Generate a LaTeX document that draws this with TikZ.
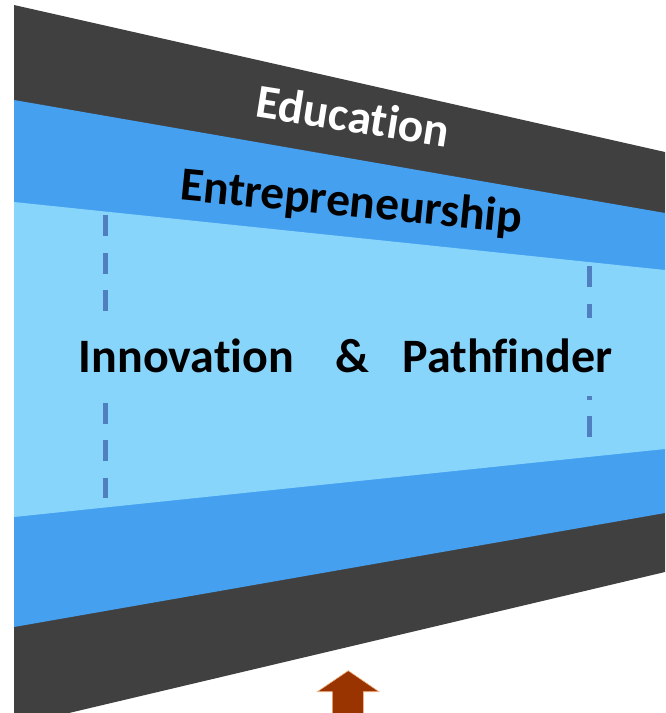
\documentclass[tikz,border=0pt]{standalone}
\usepackage{fontspec}
\setmainfont{Carlito}[Ligatures=NoCommon]
\definecolor{bandDark}{HTML}{404040}
\definecolor{bandMid}{HTML}{45A0F0}
\definecolor{bandLight}{HTML}{88D5FC}
\definecolor{guideBlue}{HTML}{4F7FBE}
\definecolor{arrowBrown}{HTML}{993300}
\definecolor{arrowEdge}{HTML}{F4B183}
\tikzset{
    bandlabel/.style={anchor=base, inner sep=0pt, font=\fontsize{47.5}{52}\selectfont\bfseries},
    rowlabel/.style={anchor=base, inner sep=0pt, text height=31pt, text depth=0pt, minimum height=78pt, font=\fontsize{48}{52}\selectfont\bfseries},
    guide/.style={guideBlue, line width=5pt, dash pattern=on 21pt off 16.5pt}
}
\begin{document}
\begin{tikzpicture}[x=1pt, y=-1pt]
    \useasboundingbox (0,0) rectangle (665,713);
    \clip (0,0) rectangle (665,713);

    % Funnel bands (outer to inner)
    \coordinate (d1) at (14,5);   \coordinate (d2) at (665,152); \coordinate (d3) at (665,572); \coordinate (d4) at (14,726);
    \coordinate (m1) at (14,100); \coordinate (m2) at (665,213); \coordinate (m3) at (665,513); \coordinate (m4) at (14,627);
    \coordinate (l1) at (14,202); \coordinate (l2) at (665,270); \coordinate (l3) at (665,449); \coordinate (l4) at (14,517);

    \fill[bandDark] (d1)--(d2)--(d3)--(d4)--cycle;
    \fill[bandMid] (m1)--(m2)--(m3)--(m4)--cycle;
    \fill[bandLight] (l1)--(l2)--(l3)--(l4)--cycle;

    % Dashed guides
    \coordinate (g1) at (105,215); \coordinate (g2) at (105,498);
    \coordinate (g3) at (589,266); \coordinate (g4) at (589,437);
    \draw[guide] (g1)--(g2); \draw[guide] (g3)--(g4);

    % Labels
    \node[bandlabel, white, rotate=-9] (edu) at (350.5,132) {Education};
    \node[bandlabel, rotate=-5.6] (ent) at (350,216.6) {Entrepreneurship};
    \node[rowlabel, fill=bandLight] (inno) at (186.5,372) {Innovation};
    \node[rowlabel] (amp) at (352,372) {\&};
    \node[rowlabel, fill=bandLight] (path) at (507.5,372) {Pathfinder};

    % Up arrow
    \filldraw[fill=arrowBrown, draw=arrowEdge, line width=0.6pt]
        (348.3,670.7)--(379,691.7)--(363.3,691.7)--(363.3,720)--(332.3,720)--(332.3,691.7)--(317.3,691.7)--cycle;
\end{tikzpicture}
\end{document}
